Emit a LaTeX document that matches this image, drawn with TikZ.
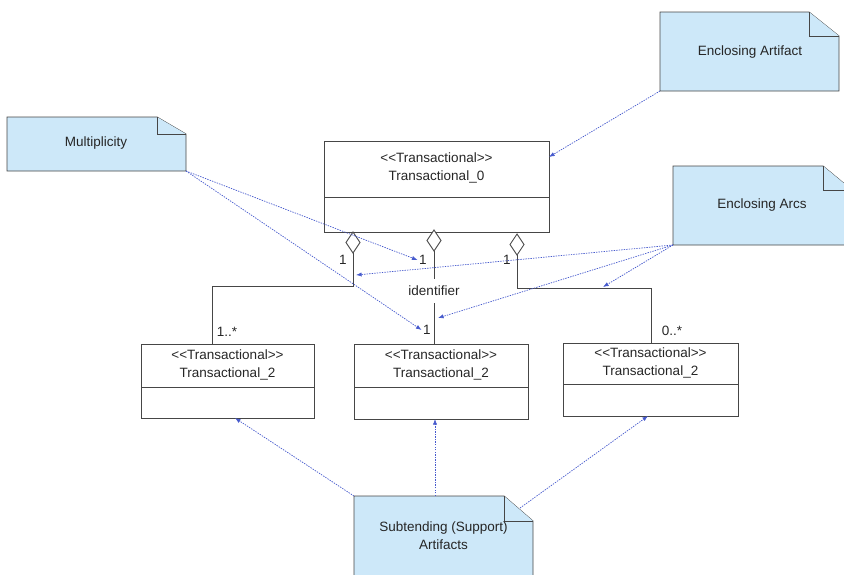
\documentclass[tikz,border=0pt]{standalone}
\usepackage{fontspec}
\setmainfont{Liberation Sans}[Ligatures=TeXOff]
\usetikzlibrary{arrows.meta}
\definecolor{notefill}{RGB}{205,232,249}
\definecolor{linkblue}{RGB}{70,90,205}
\definecolor{linegray}{RGB}{70,70,70}

\begin{document}
\begin{tikzpicture}[x=0.025cm,y=-0.025cm,
    umlline/.style={draw=linegray, line width=0.6pt},
    notebox/.style={draw=linegray, fill=notefill, line width=0.6pt},
    notelink/.style={draw=linkblue, line width=0.5pt, dash pattern=on 1pt off 0.8pt, -{Latex[length=4pt,width=3pt]}},
    lbl/.style={font=\fontsize{9.6}{12.8}\selectfont, text=black!85, inner sep=1pt, align=center}]
    \useasboundingbox (0,0) rectangle (844,574);

    % notes
    \draw[notebox] (660,12) -- (809,12) -- (839,36) -- (839,91) -- (660,91) -- cycle;
    \draw[notebox] (809,12) -- (809,36) -- (839,36);
    \node[lbl] (artifact) at (750,52) {Enclosing Artifact};
    \coordinate (artifact-sw) at (660,91);

    \draw[notebox] (7,117) -- (157,117) -- (186,134) -- (186,171) -- (7,171) -- cycle;
    \draw[notebox] (157,117) -- (157,134) -- (186,134);
    \node[lbl] (mult) at (96,143) {Multiplicity};
    \coordinate (mult-se) at (186,171);

    \draw[notebox] (673,166) -- (823,166) -- (852,190) -- (852,245) -- (673,245) -- cycle;
    \draw[notebox] (823,166) -- (823,190) -- (852,190);
    \node[lbl] (arcs) at (762,205) {Enclosing Arcs};
    \coordinate (arcs-sw) at (673,245);

    \draw[notebox] (354,496) -- (504,496) -- (533,521) -- (533,576) -- (354,576) -- cycle;
    \draw[notebox] (504,496) -- (504,521) -- (533,521);
    \node[lbl] (support) at (443.5,535.5) {Subtending (Support)\\Artifacts};
    \coordinate (support-nw) at (354,496);
    \coordinate (support-n) at (435,496);
    \coordinate (support-ne) at (520,508);

    % classes
    \draw[umlline] (324,141) rectangle (549,232) (324,197) -- (549,197);
    \node[lbl] (t0) at (436.5,168) {<<Transactional>>\\Transactional\_0};
    \coordinate (t0-e) at (549,157);

    \draw[umlline] (141,344) rectangle (314,418) (141,387) -- (314,387);
    \node[lbl] (t2a) at (227.5,364.5) {<<Transactional>>\\Transactional\_2};
    \coordinate (t2a-n) at (212,344);
    \coordinate (t2a-s) at (235,418);

    \draw[umlline] (354,344) rectangle (528,419) (354,387) -- (528,387);
    \node[lbl] (t2b) at (441,364.5) {<<Transactional>>\\Transactional\_2};
    \coordinate (t2b-n) at (434,344);
    \coordinate (t2b-s) at (435,419);

    \draw[umlline] (563,343) rectangle (738,416) (563,384) -- (738,384);
    \node[lbl] (t2c) at (650.5,362.5) {<<Transactional>>\\Transactional\_2};
    \coordinate (t2c-n) at (651,343);
    \coordinate (t2c-s) at (648,416);

    % aggregations
    \foreach \n/\px/\py in {a/353/232, b/434/230, c/517/234} {
        \draw[umlline, fill=white] (\px,\py) -- (\px-7,\py+10.5) -- (\px,\py+21) -- (\px+7,\py+10.5) -- cycle;
        \coordinate (agg\n) at (\px,\py+21);
    }
    \node[lbl, inner ysep=5pt] (ident) at (434,291) {identifier};
    \draw[umlline] (agga) -- (353,286) -- (212,286) -- (t2a-n);
    \draw[umlline] (aggb) -- (ident.north);
    \draw[umlline] (ident.south) -- (t2b-n);
    \draw[umlline] (aggc) -- (517,288) -- (651,288) -- (t2c-n);

    \node[lbl] (onea) at (343,260) {1};
    \node[lbl] (oneb) at (423,260) {1};
    \node[lbl] (onec) at (507,260) {1};
    \node[lbl] (oned) at (427,330) {1};
    \node[lbl] (manya) at (227,332) {1..*};
    \node[lbl] (manyc) at (672,331) {0..*};

    \coordinate (hita) at (356,275);
    \coordinate (hitb) at (438,318);
    \coordinate (hitc) at (603,287);

    % note links
    \draw[notelink] (artifact-sw) -- (t0-e);
    \draw[notelink] (mult-se) -- (oneb.west);
    \draw[notelink] (mult-se) -- (oned.west);
    \draw[notelink] (arcs-sw) -- (hita);
    \draw[notelink] (arcs-sw) -- (hitb);
    \draw[notelink] (arcs-sw) -- (hitc);
    \draw[notelink] (support-nw) -- (t2a-s);
    \draw[notelink] (support-n) -- (t2b-s);
    \draw[notelink] (support-ne) -- (t2c-s);
\end{tikzpicture}
\end{document}
